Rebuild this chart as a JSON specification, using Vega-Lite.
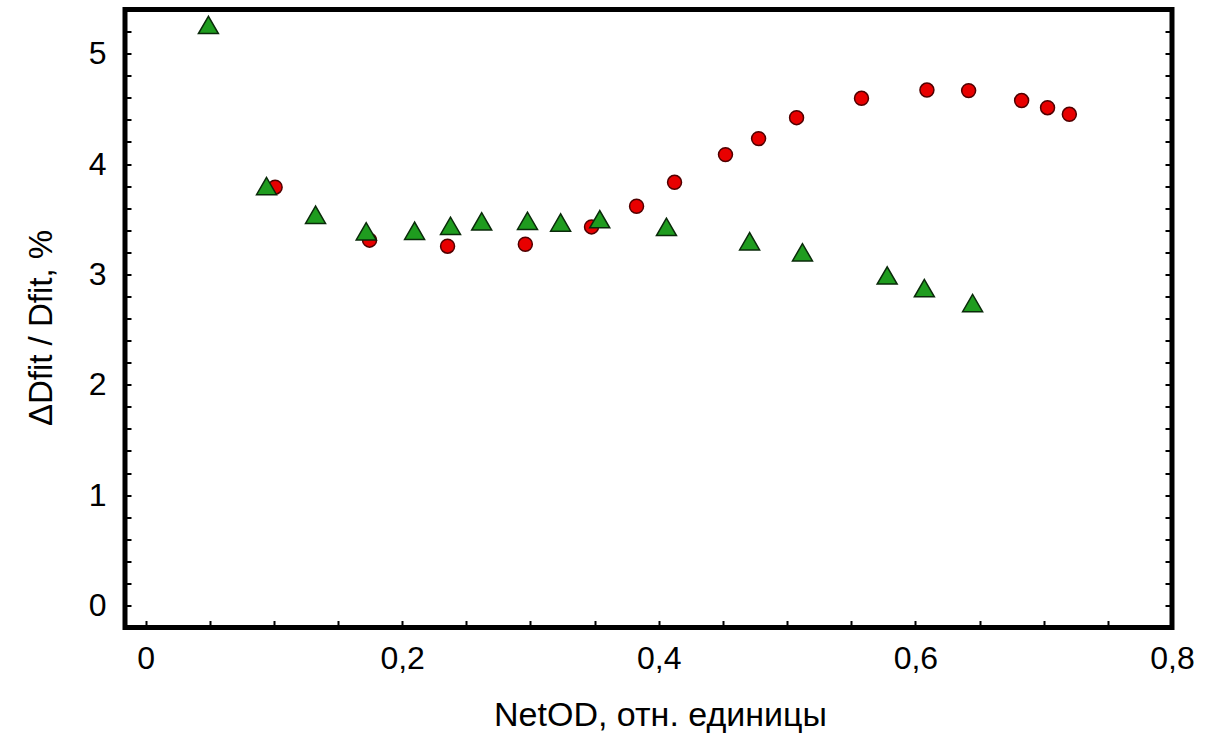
{
  "$schema": "https://vega.github.io/schema/vega-lite/v6.json",
  "width": 1047,
  "height": 618,
  "autosize": "none",
  "padding": {"left": 125, "top": 9.5, "right": 41, "bottom": 114.5},
  "background": "white",
  "config": {
    "view": {"stroke": "black", "strokeWidth": 5},
    "font": "Liberation Sans",
    "axis": {"labelFont": "Liberation Sans", "titleFont": "Liberation Sans", "labelColor": "black", "titleColor": "black", "tickColor": "black", "grid": false, "domain": false}
  },
  "datasets": {
    "circles": [
      {"netod": 0.101, "rel": 3.79},
      {"netod": 0.1746, "rel": 3.31},
      {"netod": 0.2354, "rel": 3.255},
      {"netod": 0.296, "rel": 3.273},
      {"netod": 0.3476, "rel": 3.43},
      {"netod": 0.3827, "rel": 3.617},
      {"netod": 0.4123, "rel": 3.834},
      {"netod": 0.452, "rel": 4.085},
      {"netod": 0.4778, "rel": 4.23},
      {"netod": 0.5074, "rel": 4.42},
      {"netod": 0.558, "rel": 4.595},
      {"netod": 0.609, "rel": 4.67},
      {"netod": 0.6415, "rel": 4.665},
      {"netod": 0.6828, "rel": 4.575},
      {"netod": 0.703, "rel": 4.51},
      {"netod": 0.72, "rel": 4.45}
    ],
    "triangles": [
      {"netod": 0.049, "rel": 5.26},
      {"netod": 0.0943, "rel": 3.8},
      {"netod": 0.1325, "rel": 3.54},
      {"netod": 0.172, "rel": 3.39},
      {"netod": 0.2097, "rel": 3.395},
      {"netod": 0.2377, "rel": 3.44},
      {"netod": 0.262, "rel": 3.48},
      {"netod": 0.2977, "rel": 3.485},
      {"netod": 0.3235, "rel": 3.47},
      {"netod": 0.354, "rel": 3.5},
      {"netod": 0.406, "rel": 3.43},
      {"netod": 0.4708, "rel": 3.3},
      {"netod": 0.512, "rel": 3.2},
      {"netod": 0.578, "rel": 2.99},
      {"netod": 0.607, "rel": 2.875},
      {"netod": 0.6446, "rel": 2.74}
    ]
  },
  "layer": [
    {
      "data": {"name": "circles"},
      "mark": {"type": "point", "shape": "circle", "filled": true, "size": 195, "fill": "#e80000", "stroke": "#500000", "strokeWidth": 1.5, "opacity": 1},
      "encoding": {
        "x": {
          "field": "netod", "type": "quantitative",
          "scale": {"domain": [-0.016, 0.8], "nice": false, "zero": false},
          "axis": {
            "orient": "bottom",
            "values": [0, 0.05, 0.1, 0.15, 0.2, 0.25, 0.3, 0.35, 0.4, 0.45, 0.5, 0.55, 0.6, 0.65, 0.7, 0.75, 0.8],
            "labelExpr": "datum.value == 0 ? '0' : (abs(datum.value * 5 - round(datum.value * 5)) < 0.001 ? replace(format(datum.value, '.1f'), '.', ',') : '')",
            "tickSize": -7, "tickWidth": 2,
            "labelPadding": 23, "labelFontSize": 32, "labelFlush": false, "labelOverlap": false, "labelBound": false,
            "title": "NetOD, отн. единицы", "titleFontSize": 34, "titleFontWeight": "normal", "titlePadding": 24, "titleX": 535
          }
        },
        "y": {
          "field": "rel", "type": "quantitative",
          "scale": {"domain": [-0.2, 5.4], "nice": false, "zero": false},
          "axis": {
            "orient": "left",
            "values": [0, 0.2, 0.4, 0.6, 0.8, 1, 1.2, 1.4, 1.6, 1.8, 2, 2.2, 2.4, 2.6, 2.8, 3, 3.2, 3.4, 3.6, 3.8, 4, 4.2, 4.4, 4.6, 4.8, 5, 5.2],
            "labelExpr": "abs(datum.value - round(datum.value)) < 0.001 ? format(datum.value, 'd') : ''",
            "tickSize": -6, "tickWidth": 2,
            "labelPadding": 25, "labelFontSize": 32, "labelFlush": false, "labelOverlap": false, "labelBound": false,
            "title": "ΔDfit / Dfit, %", "titleFontSize": 33, "titleFontWeight": "normal", "titlePadding": 30, "titleY": 318
          }
        }
      }
    },
    {
      "data": {"name": "triangles"},
      "mark": {"type": "point", "shape": "triangle-up", "filled": true, "size": 400, "fill": "#1f9c1f", "stroke": "#0a2a0a", "strokeWidth": 1.5, "opacity": 1},
      "encoding": {
        "x": {"field": "netod", "type": "quantitative", "axis": null},
        "y": {
          "field": "rel", "type": "quantitative",
          "axis": {
            "orient": "right",
            "values": [0, 0.2, 0.4, 0.6, 0.8, 1, 1.2, 1.4, 1.6, 1.8, 2, 2.2, 2.4, 2.6, 2.8, 3, 3.2, 3.4, 3.6, 3.8, 4, 4.2, 4.4, 4.6, 4.8, 5, 5.2],
            "labels": false, "tickSize": -7, "tickWidth": 2, "title": null
          }
        }
      }
    }
  ],
  "resolve": {"axis": {"x": "independent", "y": "independent"}}
}
